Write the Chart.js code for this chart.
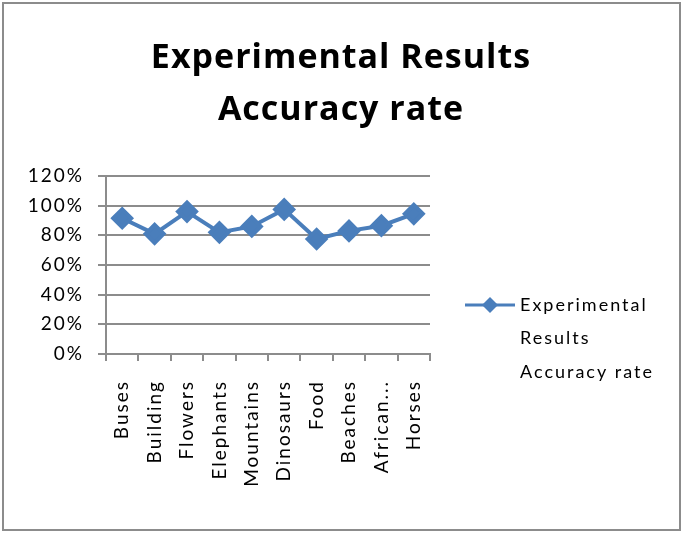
<!DOCTYPE html>
<html>
<head>
<meta charset="utf-8">
<script src="https://cdn.jsdelivr.net/npm/chart.js@4/dist/chart.umd.min.js"></script>
<style>
  html, body { margin: 0; padding: 0; background: #fff; }
  #wrap { position: relative; width: 685px; height: 534px; }
  #frame { position: absolute; left: 2px; top: 2px; width: 679px; height: 529px;
           border: 2px solid #8c8c8c; box-sizing: border-box; }
  canvas { position: absolute; left: 0; top: 0; }
</style>
</head>
<body>
<div id="wrap">
  <canvas id="chart" width="685" height="534"></canvas>
  <div id="frame"></div>
</div>
<script>
'use strict';

const categories = ['Buses', 'Building', 'Flowers', 'Elephants', 'Mountains',
  'Dinosaurs', 'Food', 'Beaches', 'African...', 'Horses'];
const accuracy = [91.5, 81, 96, 82, 86, 97.5, 77.5, 83, 86.5, 94.5];
const yTicks = [0, 20, 40, 60, 80, 100, 120];
const seriesLabel = ['Experimental', 'Results', 'Accuracy rate'];
const titleLines = ['Experimental Results', 'Accuracy rate'];

const BLUE = '#4a7ebb';
const GRID = '#8c8c8c';
const FONT = 'Lato, "Open Sans", sans-serif';

// the old office chart has loosely spaced text
// (canvas resize resets the context, so set it again before layout and draw)
const spacing = {
  id: 'spacing',
  beforeUpdate(chart) { chart.ctx.letterSpacing = '2px'; },
  beforeLayout(chart) { chart.ctx.letterSpacing = '2px'; },
  beforeDraw(chart) { chart.ctx.letterSpacing = '2px'; },
};

// title drawn by hand so it centres on the whole picture
const bigTitle = {
  id: 'bigTitle',
  afterDraw(chart) {
    const ctx = chart.ctx;
    ctx.save();
    ctx.letterSpacing = '1px';
    ctx.font = 'bold 34px "Open Sans", sans-serif';
    ctx.fillStyle = '#000';
    ctx.textAlign = 'center';
    ctx.textBaseline = 'alphabetic';
    ctx.fillText(titleLines[0], 341, 68);
    ctx.fillText(titleLines[1], 341, 120);
    ctx.restore();
  },
};

// legend drawn by hand so the label can wrap on three lines
const sideLegend = {
  id: 'sideLegend',
  afterDraw(chart) {
    const ctx = chart.ctx;
    const x0 = 465, y0 = 305;
    ctx.save();
    ctx.strokeStyle = BLUE;
    ctx.lineWidth = 3;
    ctx.beginPath();
    ctx.moveTo(x0, y0);
    ctx.lineTo(x0 + 50, y0);
    ctx.stroke();
    ctx.fillStyle = BLUE;
    ctx.beginPath();
    ctx.moveTo(x0 + 25, y0 - 8);
    ctx.lineTo(x0 + 33, y0);
    ctx.lineTo(x0 + 25, y0 + 8);
    ctx.lineTo(x0 + 17, y0);
    ctx.closePath();
    ctx.fill();
    ctx.fillStyle = '#000';
    ctx.font = '18px ' + FONT;
    ctx.letterSpacing = '2px';
    ctx.textBaseline = 'middle';
    seriesLabel.forEach((t, i) => ctx.fillText(t, x0 + 55, y0 + i * 33.5));
    ctx.restore();
  },
};

new Chart(document.getElementById('chart'), {
  type: 'line',
  data: {
    labels: categories,
    datasets: [{
      label: seriesLabel.join(' '),
      data: accuracy,
      borderColor: BLUE,
      backgroundColor: BLUE,
      borderWidth: 4,
      pointStyle: 'rectRot',
      pointRadius: 9,
      pointHoverRadius: 9,
      tension: 0,
    }],
  },
  options: {
    responsive: false,
    animation: false,
    layout: { padding: { left: 0, right: 255, top: 176, bottom: 0 } },
    plugins: {
      legend: { display: false },
      tooltip: { enabled: false },
      title: { display: false },
    },
    scales: {
      x: {
        offset: true,
        afterFit(scale) { scale.height = 180; },
        grid: {
          display: true,
          drawOnChartArea: false,
          offset: true,
          color: GRID,
          lineWidth: 2,
          tickLength: 7,
        },
        border: { color: GRID, width: 2 },
        ticks: {
          color: '#000',
          font: { family: FONT, size: 19 },
          minRotation: 90,
          maxRotation: 90,
          autoSkip: false,
          padding: 19,
        },
      },
      y: {
        min: 0,
        max: 120,
        afterFit(scale) { scale.width = 106; },
        afterBuildTicks(scale) { scale.ticks = yTicks.map(v => ({ value: v })); },
        grid: { color: GRID, lineWidth: 2, tickLength: 8 },
        border: { color: GRID, width: 2 },
        ticks: {
          color: '#000',
          font: { family: FONT, size: 19 },
          padding: 14,
          callback: v => v + '%',
        },
      },
    },
  },
  plugins: [spacing, bigTitle, sideLegend],
});
</script>
</body>
</html>
